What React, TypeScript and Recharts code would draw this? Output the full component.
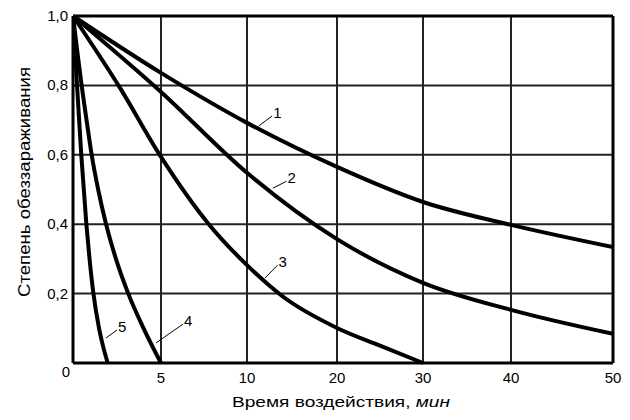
import React from 'react';
import { LineChart, Line, XAxis, YAxis, CartesianGrid, ReferenceLine, Label } from 'recharts';

// axis ticks: time, min / degree of disinfection
const xTicks = [0, 5, 10, 20, 30, 40, 50];
const yTicks = [0, 0.2, 0.4, 0.6, 0.8, 1.0];

// curves 1..5
const curve1X = [0, 5, 10, 20, 30, 40, 50];
const curve1Y = [1.0, 0.836, 0.692, 0.565, 0.464, 0.398, 0.334];
const curve2X = [0, 5, 10, 20, 30, 40, 50];
const curve2Y = [1.0, 0.781, 0.548, 0.357, 0.231, 0.153, 0.084];
const curve3X = [0, 2.67, 5, 7.73, 10, 13.9, 20, 25, 30];
const curve3Y = [1.0, 0.793, 0.594, 0.403, 0.282, 0.193, 0.101, 0.05, 0];
const curve4X = [0, 0.24, 0.49, 0.77, 1.06, 1.43, 1.88, 2.44, 3.14, 4.01, 5];
const curve4Y = [1.0, 0.9, 0.8, 0.7, 0.6, 0.5, 0.4, 0.3, 0.2, 0.1, 0];
const curve5X = [0, 0.23, 0.47, 0.76, 0.94, 1.16, 1.48, 1.7, 1.97];
const curve5Y = [1.0, 0.8, 0.6, 0.4, 0.3, 0.2, 0.1, 0.05, 0];

// curve number labels with their leader lines (data units)
const leaderNames = ['1', '2', '3', '4', '5'];
const leaderFrom = [[11.3, 0.683], [12.9, 0.504], [12.0, 0.245], [4.72, 0.058], [1.875, 0.072]];
const leaderTo = [[12.8, 0.712], [14.4, 0.524], [13.4, 0.282], [6.28, 0.112], [2.5, 0.095]];

const curves = [
  { name: '1', x: curve1X, y: curve1Y },
  { name: '2', x: curve2X, y: curve2Y },
  { name: '3', x: curve3X, y: curve3Y },
  { name: '4', x: curve4X, y: curve4Y },
  { name: '5', x: curve5X, y: curve5Y },
].map((c) => ({ name: c.name, points: c.x.map((x, i) => ({ x, y: c.y[i] })) }));

const FONT = '"Liberation Sans", Arial, sans-serif';

// the time axis is not uniform: 0-10 and 10-50 have different steps
const xKnotFrac = [0, 88, 174, 264, 350, 438, 540].map((v) => v / 540);

function piecewiseScale(knots: number[], fracs: number[]): any {
  let dom = [knots[0], knots[knots.length - 1]];
  let rng = [0, 1];
  const scale: any = (v: number) => {
    let i = 0;
    while (i < knots.length - 2 && v > knots[i + 1]) i++;
    const t = (v - knots[i]) / (knots[i + 1] - knots[i]);
    const f = fracs[i] + t * (fracs[i + 1] - fracs[i]);
    return rng[0] + f * (rng[1] - rng[0]);
  };
  scale.domain = (d?: number[]) => {
    if (d === undefined) return dom.slice();
    dom = d.slice();
    return scale;
  };
  scale.range = (r?: number[]) => {
    if (r === undefined) return rng.slice();
    rng = r.slice();
    return scale;
  };
  scale.invert = (px: number) => {
    const f = (px - rng[0]) / (rng[1] - rng[0]);
    let i = 0;
    while (i < fracs.length - 2 && f > fracs[i + 1]) i++;
    const t = (f - fracs[i]) / (fracs[i + 1] - fracs[i]);
    return knots[i] + t * (knots[i + 1] - knots[i]);
  };
  scale.ticks = () => knots.slice();
  scale.tickFormat = () => (v: number) => String(v);
  scale.nice = () => scale;
  scale.clamp = () => scale;
  scale.copy = () => piecewiseScale(knots, fracs).domain(dom).range(rng);
  return scale;
}

const xScale = piecewiseScale(xTicks, xKnotFrac);

const fmtY = (v: number) => (v === 0 ? '0' : v.toFixed(1).replace('.', ','));

const YTick = (props: any) => {
  const { x, y, payload } = props;
  const zero = payload.value === 0;
  return (
    <text x={x + (zero ? 2 : 0)} y={y + (zero ? 9 : 0)} dy={5} textAnchor="end" fontSize={15} fontFamily={FONT} fill="#000">
      {fmtY(payload.value)}
    </text>
  );
};

const XTick = (props: any) => {
  const { x, y, payload } = props;
  if (payload.value === 0) return null;
  return (
    <text x={x} y={y} dy={20} textAnchor="middle" fontSize={15} fontFamily={FONT} fill="#000">
      {payload.value}
    </text>
  );
};

const leaderLabel = (text: string) => (props: any) => {
  const vb = props.viewBox || {};
  return (
    <text x={vb.x + vb.width + 1} y={vb.y + 2} fontSize={15} fontFamily={FONT} fill="#000">
      {text}
    </text>
  );
};

export default function App() {
  return (
    <div style={{ position: 'absolute', left: 0, top: 0, width: 630, height: 420, background: '#fff' }}>
      <LineChart width={630} height={420} margin={{ top: 16, right: 17, left: 0, bottom: 0 }}>
        <CartesianGrid stroke="#222" strokeWidth={2} />
        <XAxis
          dataKey="x"
          type="number"
          domain={[0, 50]}
          ticks={xTicks}
          scale={xScale}
          height={57}
          tickSize={0}
          tickMargin={0}
          tick={<XTick />}
          axisLine={{ stroke: '#000', strokeWidth: 3 }}
          tickLine={false}
          allowDataOverflow
        >
          <Label
            content={(p: any) => {
              const vb = p.viewBox || { x: 73, y: 363, width: 540 };
              return (
                <text
                  x={vb.x + vb.width / 2 - 2}
                  y={vb.y + 44}
                  textAnchor="middle"
                  fontSize={15}
                  fontFamily={FONT}
                  fill="#000"
                  textLength={218}
                  lengthAdjust="spacingAndGlyphs"
                >
                  Время воздействия, <tspan fontStyle="italic">мин</tspan>
                </text>
              );
            }}
          />
        </XAxis>
        <YAxis
          type="number"
          domain={[0, 1]}
          ticks={yTicks}
          width={73}
          tickSize={0}
          tickMargin={5}
          tick={<YTick />}
          axisLine={{ stroke: '#000', strokeWidth: 3 }}
          tickLine={false}
        >
          <Label
            content={() => (
              <text
                transform="translate(30,182) rotate(-90)"
                textAnchor="middle"
                fontSize={16}
                fontFamily={FONT}
                fill="#000"
                textLength={230}
                lengthAdjust="spacingAndGlyphs"
              >
                Степень обеззараживания
              </text>
            )}
          />
        </YAxis>
        <ReferenceLine y={1} stroke="#000" strokeWidth={3} />
        <ReferenceLine x={50} stroke="#000" strokeWidth={3} />
        {curves.map((c) => (
          <Line
            key={c.name}
            name={c.name}
            data={c.points}
            dataKey="y"
            type="monotone"
            stroke="#000"
            strokeWidth={4}
            dot={false}
            isAnimationActive={false}
          />
        ))}
        {leaderNames.map((n, i) => (
          <ReferenceLine
            key={'leader' + n}
            segment={[
              { x: leaderFrom[i][0], y: leaderFrom[i][1] },
              { x: leaderTo[i][0], y: leaderTo[i][1] },
            ]}
            stroke="#000"
            strokeWidth={1}
            ifOverflow="visible"
            label={leaderLabel(n)}
          />
        ))}
      </LineChart>
    </div>
  );
}
